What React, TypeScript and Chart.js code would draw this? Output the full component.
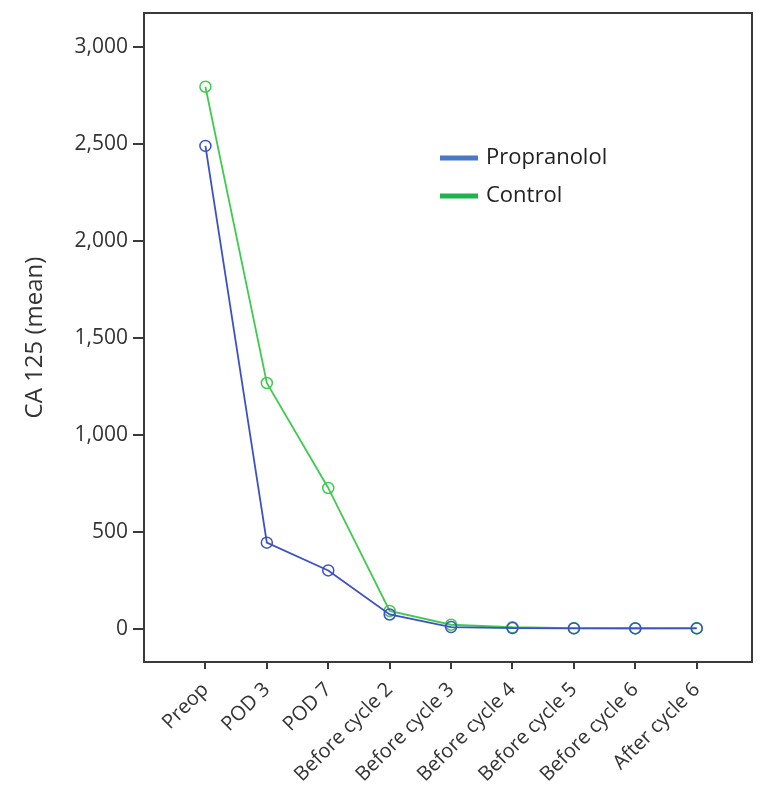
import React, { useEffect, useRef } from "react";
import { Chart, registerables } from "chart.js";

Chart.register(...registerables);

const categories = [
  "Preop",
  "POD 3",
  "POD 7",
  "Before cycle 2",
  "Before cycle 3",
  "Before cycle 4",
  "Before cycle 5",
  "Before cycle 6",
  "After cycle 6",
];
const propranolol = [2490, 445, 302, 75, 10, 5, 3, 3, 3];
const control = [2795, 1268, 727, 93, 22, 9, 5, 4, 5];
const yTicks = [0, 500, 1000, 1500, 2000, 2500, 3000];
const seriesNames = ["Propranolol", "Control"];
const legendColors = ["#4a78c6", "#1fb34b"];
const lineColors = ["#3c52c4", "#3fcb4f"];

const FONT = "'Open Sans', 'Noto Sans', sans-serif";

const frameAndLegend = {
  id: "frameAndLegend",
  afterDraw(chart: any) {
    const { ctx, chartArea } = chart;
    ctx.save();
    ctx.strokeStyle = "#3a3a3a";
    ctx.lineWidth = 2;
    ctx.strokeRect(
      chartArea.left,
      chartArea.top,
      chartArea.right - chartArea.left,
      chartArea.bottom - chartArea.top
    );
    // legend inside chart area
    const lx = chartArea.left + 296;
    const ly = chartArea.top + 145;
    seriesNames.forEach((name, i) => {
      const y = ly + i * 38;
      ctx.strokeStyle = legendColors[i];
      ctx.lineWidth = 5;
      ctx.beginPath();
      ctx.moveTo(lx, y);
      ctx.lineTo(lx + 38, y);
      ctx.stroke();
      ctx.fillStyle = "#222";
      ctx.font = `22px ${FONT}`;
      ctx.textBaseline = "middle";
      ctx.textAlign = "left";
      ctx.fillText(name, lx + 46, y);
    });
    ctx.restore();
  },
};

export default function App() {
  const ref = useRef<HTMLCanvasElement | null>(null);

  useEffect(() => {
    document.body.style.margin = "0";
    const canvas = ref.current!;
    const mk = (vals: number[]) => vals.map((v, i) => ({ x: i, y: v }));
    const chart = new Chart(canvas, {
      type: "line",
      data: {
        datasets: [
          {
            label: seriesNames[0],
            data: mk(propranolol),
            borderColor: lineColors[0],
            backgroundColor: "transparent",
            borderWidth: 1.8,
            pointRadius: 5.5,
            pointBorderWidth: 1.5,
            pointBackgroundColor: "transparent",
            pointBorderColor: lineColors[0],
            tension: 0,
          },
          {
            label: seriesNames[1],
            data: mk(control),
            borderColor: lineColors[1],
            backgroundColor: "transparent",
            borderWidth: 1.8,
            pointRadius: 5.5,
            pointBorderWidth: 1.5,
            pointBackgroundColor: "transparent",
            pointBorderColor: lineColors[1],
            tension: 0,
          },
        ],
      },
      options: {
        responsive: false,
        animation: false,
        layout: { padding: { left: 21, top: 13, right: 17, bottom: 0 } },
        plugins: {
          legend: { display: false },
          tooltip: { enabled: false },
        },
        scales: {
          x: {
            type: "linear",
            min: -1,
            max: 8.9,
            afterBuildTicks: (scale: any) => {
              scale.ticks = categories.map((_, i) => ({ value: i }));
            },
            afterFit: (scale: any) => {
              scale.height = 135;
              scale.paddingLeft = 0;
              scale.paddingRight = 0;
            },
            ticks: {
              autoSkip: false,
              minRotation: 45,
              maxRotation: 45,
              color: "#333",
              font: { size: 20, family: FONT },
              padding: 9,
              callback: (v: any) => categories[v as number] ?? "",
            },
            grid: {
              drawOnChartArea: false,
              drawTicks: true,
              tickLength: 7,
              color: "#3a3a3a",
              lineWidth: 2,
            },
            border: { display: true, color: "#3a3a3a", width: 2 },
          },
          y: {
            type: "linear",
            min: -170,
            max: 3175,
            afterBuildTicks: (scale: any) => {
              scale.ticks = yTicks.map((v) => ({ value: v }));
            },
            afterFit: (scale: any) => {
              scale.width = 123;
              scale.paddingTop = 0;
              scale.paddingBottom = 0;
            },
            title: {
              display: true,
              text: "CA 125 (mean)",
              color: "#333",
              font: { size: 24, family: FONT },
              padding: 0,
            },
            ticks: {
              color: "#333",
              font: { size: 21, family: FONT },
              padding: 5,
              callback: (v: any) => Number(v).toLocaleString("en-US"),
            },
            grid: {
              drawOnChartArea: false,
              drawTicks: true,
              tickLength: 11,
              color: "#3a3a3a",
              lineWidth: 2,
            },
            border: { display: true, color: "#3a3a3a", width: 2 },
          },
        },
      },
      plugins: [frameAndLegend],
    });
    return () => chart.destroy();
  }, []);

  return (
    <div style={{ position: "absolute", left: 0, top: 0, width: 769, height: 797, background: "#fff" }}>
      <canvas ref={ref} width={769} height={797} style={{ display: "block" }} />
    </div>
  );
}
